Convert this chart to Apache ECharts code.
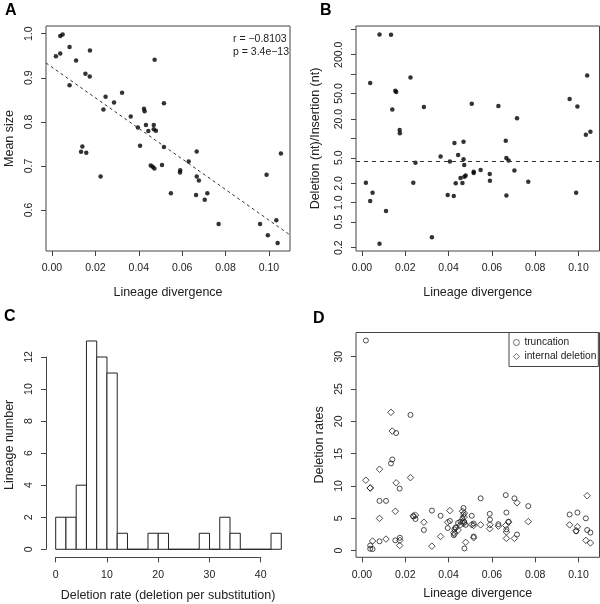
<!DOCTYPE html>
<html>
<head>
<meta charset="utf-8">
<script src="https://cdn.jsdelivr.net/npm/echarts@6.0.0/dist/echarts.min.js"></script>
<style>
  html, body { margin: 0; padding: 0; background: #fff; }
  #chart { width: 600px; height: 604px; }
</style>
</head>
<body>
<div id="chart"></div>
<script>
// lineage divergence, shared by panels A, B and D (sorted)
var divergence = [
  0.0018, 0.0038, 0.0038, 0.0049, 0.0081, 0.0081, 0.0111, 0.0134, 0.0140, 0.0154,
  0.0158, 0.0174, 0.0175, 0.0224, 0.0237, 0.0247, 0.0286, 0.0323, 0.0363, 0.0396,
  0.0406, 0.0424, 0.0427, 0.0433, 0.0444, 0.0455, 0.0464, 0.0469, 0.0469, 0.0472,
  0.0473, 0.0479, 0.0507, 0.0516, 0.0516, 0.0548, 0.0590, 0.0591, 0.0630, 0.0664,
  0.0667, 0.0667, 0.0677, 0.0704, 0.0716, 0.0768, 0.0959, 0.0989, 0.0995, 0.1034,
  0.1040, 0.1055
];
// A: mean size
var meanSize = [
  0.949, 0.955, 0.995, 0.998, 0.970, 0.883, 0.939, 0.732, 0.744, 0.909,
  0.730, 0.903, 0.962, 0.676, 0.828, 0.857, 0.844, 0.866, 0.812, 0.787,
  0.746, 0.830, 0.824, 0.793, 0.779, 0.701, 0.698, 0.793, 0.783, 0.694,
  0.941, 0.780, 0.702, 0.842, 0.743, 0.638, 0.685, 0.690, 0.710, 0.634,
  0.733, 0.676, 0.667, 0.623, 0.638, 0.568, 0.568, 0.680, 0.543, 0.577,
  0.525, 0.728
];
var fitIntercept = 0.924;
var fitSlope = -3.47;
var corrText = ['r = \u22120.8103', 'p = 3.4e\u221213'];
// B: deletion (nt) / insertion (nt)
var delInsRatio = [
  2.05, 1.06, 72.4, 1.43, 414, 0.23, 0.74, 408, 28.2, 55,
  52.5, 13.5, 12, 88.8, 2.05, 4.2, 30.7, 0.29, 5.25, 1.32,
  4.39, 1.27, 8.46, 2.0, 5.5, 2.42, 2.02, 8.87, 4.72, 3.85,
  2.54, 2.66, 34.6, 3.03, 2.89, 3.22, 2.79, 2.2, 31.8, 9.2,
  4.95, 1.3, 4.55, 3.18, 20.5, 2.12, 40.9, 1.43, 31.4, 11.4,
  95.3, 12.7
];
var delInsRef = 4.4;
var ratioTicks = [0.2, 0.5, 1, 2, 5, 10, 20, 50, 100, 200, 500];
var ratioLabels = [0.2, 0.5, 1, 2, 5, 20, 50, 200];
// C: histogram of deletion rate
var binStarts = [0, 2, 4, 6, 8, 10, 12, 14, 16, 18, 20, 22, 24, 26, 28, 30, 32, 34, 36, 38, 40, 42];
var binWidth = 2;
var lineageCounts = [2, 2, 4, 13, 12, 11, 1, 0, 0, 1, 1, 0, 0, 0, 1, 0, 2, 1, 0, 0, 0, 1];
// D: deletion rates
var truncationRate = [
  32.5, 0.8, 0.3, 0.25, 7.7, 1.45, 7.7, 13.5, 14.1, 1.6,
  18.2, 9.6, 2.0, 21.0, 5.3, 4.9, 3.2, 6.2, 5.4, 3.5,
  4.6, 2.4, 3.3, 3.6, 4.3, 4.5, 5.0, 6.6, 5.6, 4.4,
  0.35, 4.0, 5.4, 4.2, 2.2, 8.1, 5.7, 4.8, 4.1, 8.6,
  5.9, 3.3, 4.5, 8.1, 2.5, 6.9, 5.6, 3.0, 5.9, 5.0,
  3.2, 2.8
];
var internalDelRate = [
  10.9, 9.7, 9.7, 1.5, 12.6, 5.0, 1.8, 21.4, 18.5, 6.1,
  10.5, 0.8, 1.6, 11.3, 5.4, 5.5, 4.4, 0.7, 2.2, 4.4,
  6.2, 2.8, 2.6, 3.5, 3.2, 4.0, 6.1, 4.2, 4.6, 5.2,
  5.8, 1.3, 4.0, 3.9, 2.0, 4.0, 3.4, 4.0, 3.8, 3.9,
  1.9, 2.9, 4.4, 1.9, 7.4, 4.5, 4.0, 3.1, 3.7, 1.6,
  8.5, 1.2
];
var divTicks = [0, 0.02, 0.04, 0.06, 0.08, 0.10];

var font = 'Liberation Sans, Arial, Helvetica, sans-serif';
var ink = '#222';
var boxColor = '#444';

var myChart = echarts.init(document.getElementById('chart'), null, { renderer: 'canvas' });

function pairs(ys, fn) {
  return divergence.map(function (x, i) { return [x, fn ? fn(ys[i]) : ys[i]]; });
}

// axis builder: R style, ticks outside, no axis line (box drawn by grid)
function rAxis(o) {
  return {
    type: 'value',
    gridIndex: o.grid,
    position: o.position,
    min: o.min, max: o.max,
    show: o.show !== false,
    name: o.name || '',
    nameLocation: 'middle',
    nameGap: o.nameGap || 30,
    nameTextStyle: { fontFamily: font, fontSize: 12.5, color: ink },
    axisLine: { show: !!o.line, onZero: false, lineStyle: { color: boxColor, width: 1 } },
    axisTick: o.ticks ? { show: true, inside: false, length: 5, customValues: o.ticks, lineStyle: { color: boxColor } } : { show: false },
    axisLabel: o.labels ? {
      show: true, customValues: o.labels, rotate: o.rotate || 0, margin: o.margin || 10,
      fontFamily: font, fontSize: 10.5, color: ink, formatter: o.fmt
    } : { show: false },
    splitLine: { show: false }
  };
}

var xA = -0.00276, xB = 0.1097;
var hollow = { color: 'rgba(0,0,0,0)', borderColor: '#222', borderWidth: 1 };

var option = {
  animation: false,
  backgroundColor: '#fff',
  grid: [
    { left: 46, top: 26, width: 244, height: 225, show: true, borderColor: boxColor, borderWidth: 1 },
    { left: 356, top: 26, width: 243.5, height: 225, show: true, borderColor: boxColor, borderWidth: 1 },
    { left: 46, top: 332.5, width: 244, height: 224.8 },
    { left: 55.7, top: 332.5, width: 205, height: 224.8 },
    { left: 46, top: 357, width: 244, height: 192.3 },
    { left: 356, top: 332.5, width: 243.5, height: 224.8, show: true, borderColor: boxColor, borderWidth: 1 }
  ],
  xAxis: [
    rAxis({ grid: 0, position: 'bottom', min: xA, max: xB, ticks: divTicks, labels: divTicks, margin: 12,
      fmt: function (v) { return v.toFixed(2); }, name: 'Lineage divergence', nameGap: 35 }),
    rAxis({ grid: 1, position: 'bottom', min: xA, max: xB, ticks: divTicks, labels: divTicks, margin: 12,
      fmt: function (v) { return v.toFixed(2); }, name: 'Lineage divergence', nameGap: 35 }),
    rAxis({ grid: 2, position: 'bottom', min: -1.89, max: 45.7, name: 'Deletion rate (deletion per substitution)', nameGap: 32 }),
    rAxis({ grid: 3, position: 'bottom', min: 0, max: 40, line: true, ticks: [0, 10, 20, 30, 40], labels: [0, 10, 20, 30, 40], margin: 12 }),
    rAxis({ grid: 4, position: 'bottom', min: 0, max: 40, show: false }),
    rAxis({ grid: 5, position: 'bottom', min: xA, max: xB, ticks: divTicks, labels: divTicks, margin: 12,
      fmt: function (v) { return v.toFixed(2); }, name: 'Lineage divergence', nameGap: 30 })
  ],
  yAxis: [
    rAxis({ grid: 0, position: 'left', min: 0.507, max: 1.0175, ticks: [0.6, 0.7, 0.8, 0.9, 1.0], labels: [0.6, 0.7, 0.8, 0.9, 1.0],
      rotate: 90, margin: 11, fmt: function (v) { return v.toFixed(1); }, name: 'Mean size', nameGap: 30 }),
    rAxis({ grid: 1, position: 'left', min: -0.751, max: 2.748,
      ticks: ratioTicks.map(Math.log10), labels: ratioLabels.map(Math.log10),
      rotate: 90, margin: 11, fmt: function (v) { return Math.pow(10, v).toFixed(1); },
      name: 'Deletion (nt)/Insertion (nt)', nameGap: 34 }),
    rAxis({ grid: 2, position: 'left', min: -0.5, max: 13.53, name: 'Lineage number', nameGap: 30 }),
    rAxis({ grid: 3, position: 'left', min: -0.5, max: 13.53, show: false }),
    rAxis({ grid: 4, position: 'left', min: 0, max: 12, line: true, ticks: [0, 2, 4, 6, 8, 10, 12], labels: [0, 2, 4, 6, 8, 10, 12],
      rotate: 90, margin: 11 }),
    rAxis({ grid: 5, position: 'left', min: -1.02, max: 33.74, ticks: [0, 5, 10, 15, 20, 25, 30], labels: [0, 5, 10, 15, 20, 25, 30],
      rotate: 90, margin: 11, name: 'Deletion rates', nameGap: 30 })
  ],
  legend: {
    data: ['truncation', 'internal deletion'],
    orient: 'vertical',
    left: 509, top: 332.5,
    padding: [5, 2, 5, 4],
    itemGap: 4,
    itemWidth: 6, itemHeight: 6,
    borderColor: boxColor, borderWidth: 1,
    backgroundColor: '#fff',
    itemStyle: { color: 'rgba(0,0,0,0)', borderColor: '#222', borderWidth: 0.8 },
    textStyle: { fontFamily: font, fontSize: 10.2, color: ink }
  },
  graphic: [
    { type: 'text', left: 5, top: 3, style: { text: 'A', font: 'bold 16px ' + font, fill: '#000' } },
    { type: 'text', left: 320, top: 3, style: { text: 'B', font: 'bold 16px ' + font, fill: '#000' } },
    { type: 'text', left: 4, top: 309, style: { text: 'C', font: 'bold 16px ' + font, fill: '#000' } },
    { type: 'text', left: 313, top: 311, style: { text: 'D', font: 'bold 16px ' + font, fill: '#000' } },
    { type: 'text', left: 233, top: 33, style: { text: corrText.join('\n'), font: '10.5px ' + font, fill: ink, lineHeight: 13 } }
  ],
  series: [
    {
      name: 'mean size', type: 'scatter', xAxisIndex: 0, yAxisIndex: 0,
      symbol: 'circle', symbolSize: 4.5, itemStyle: { color: '#000' },
      data: pairs(meanSize)
    },
    {
      name: 'fit', type: 'line', xAxisIndex: 0, yAxisIndex: 0, symbol: 'none', clip: true,
      lineStyle: { color: '#333', width: 1, type: [3, 3] },
      data: [[xA, fitIntercept + fitSlope * xA], [xB, fitIntercept + fitSlope * xB]]
    },
    {
      name: 'ratio', type: 'scatter', xAxisIndex: 1, yAxisIndex: 1,
      symbol: 'circle', symbolSize: 4.5, itemStyle: { color: '#000' },
      data: pairs(delInsRatio, Math.log10),
      markLine: {
        silent: true, symbol: 'none', label: { show: false },
        lineStyle: { color: '#333', width: 1, type: [4, 4] },
        data: [{ yAxis: Math.log10(delInsRef) }]
      }
    },
    {
      name: 'hist', type: 'custom', xAxisIndex: 2, yAxisIndex: 2,
      encode: { x: [0, 1], y: 2 },
      data: binStarts.map(function (b, i) { return [b, b + binWidth, lineageCounts[i]]; }),
      renderItem: function (params, api) {
        var p0 = api.coord([api.value(0), api.value(2)]);
        var p1 = api.coord([api.value(1), 0]);
        return {
          type: 'rect',
          shape: { x: p0[0], y: p0[1], width: p1[0] - p0[0], height: p1[1] - p0[1] },
          style: { fill: '#fff', stroke: '#222', lineWidth: 1 }
        };
      }
    },
    {
      name: 'truncation', type: 'scatter', xAxisIndex: 5, yAxisIndex: 5,
      symbol: 'circle', symbolSize: 5, itemStyle: hollow,
      data: pairs(truncationRate)
    },
    {
      name: 'internal deletion', type: 'scatter', xAxisIndex: 5, yAxisIndex: 5,
      symbol: 'diamond', symbolSize: 6.5, itemStyle: hollow,
      data: pairs(internalDelRate)
    }
  ]
};

myChart.setOption(option);
</script>
</body>
</html>
